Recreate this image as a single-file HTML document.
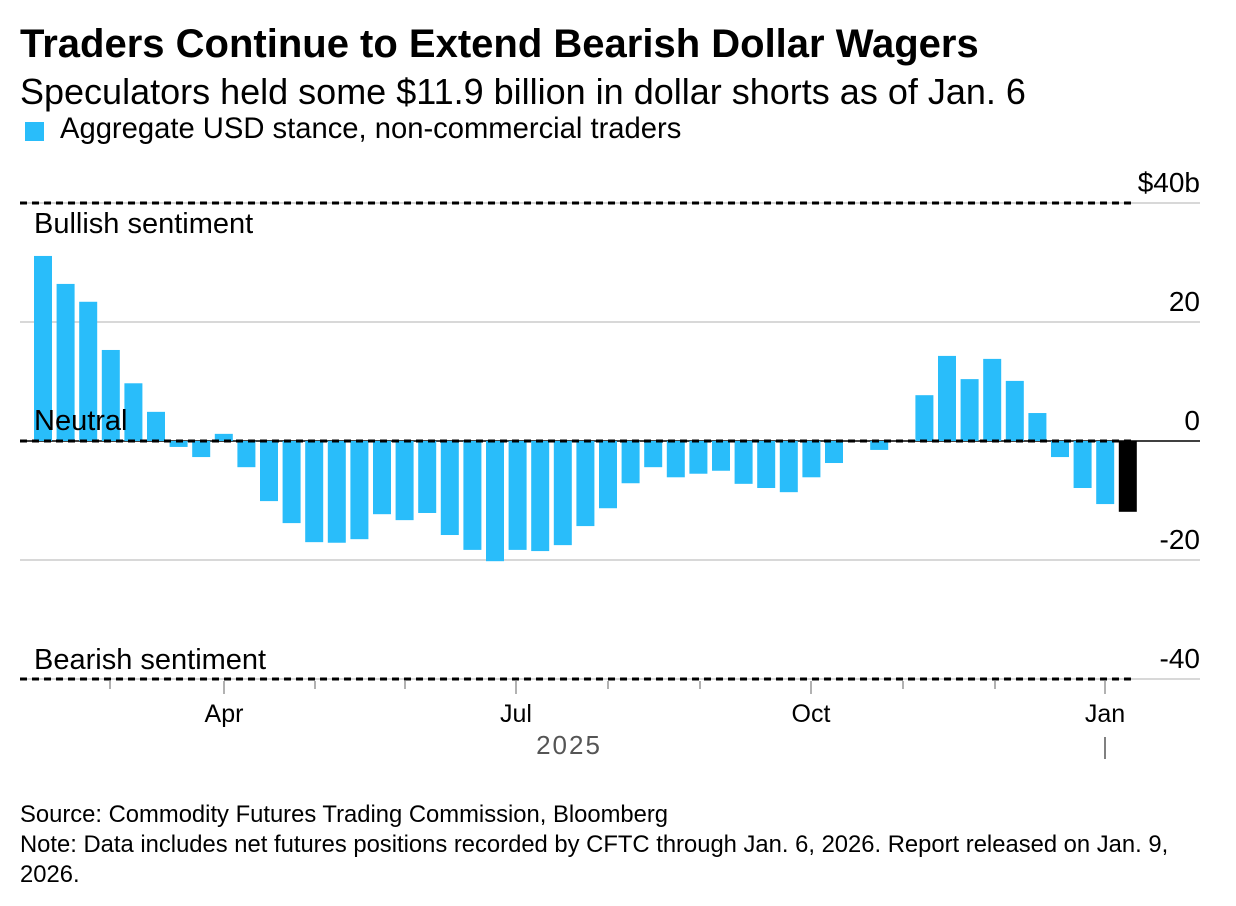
<!DOCTYPE html>
<html><head><meta charset="utf-8"><style>
body{margin:0;background:#fff;font-family:"Liberation Sans",sans-serif;}
#wrap{position:relative;width:1236px;height:906px;overflow:hidden}
.t{position:absolute;white-space:nowrap;color:#000}
</style></head><body><div id="wrap">
<div class="t" style="left:20px;top:22px;font-size:40px;font-weight:bold">Traders Continue to Extend Bearish Dollar Wagers</div>
<div class="t" style="left:20px;top:71px;font-size:36px">Speculators held some $11.9 billion in dollar shorts as of Jan. 6</div>
<div style="position:absolute;left:25px;top:122px;width:19px;height:19px;background:#29bdfa"></div>
<div class="t" style="left:60px;top:113px;font-size:29.2px">Aggregate USD stance, non-commercial traders</div>
<svg id="chart" width="1236" height="906" style="position:absolute;left:0;top:0" font-family="Liberation Sans, sans-serif"></svg>
<div class="t" style="left:20px;top:800px;font-size:23.8px;line-height:30px">Source: Commodity Futures Trading Commission, Bloomberg<br>Note: Data includes net futures positions recorded by CFTC through Jan. 6, 2026. Report released on Jan. 9,<br>2026.</div>
</div>
<script>
const values=[31.1,26.4,23.4,15.3,9.7,4.9,-1,-2.7,1.2,-4.4,-10.1,-13.8,-17,-17.1,-16.5,-12.3,-13.3,-12.1,-15.8,-18.3,-20.2,-18.3,-18.5,-17.5,-14.3,-11.3,-7.1,-4.4,-6.1,-5.5,-5,-7.2,-7.9,-8.6,-6.1,-3.7,0,-1.5,0,7.7,14.3,10.4,13.8,10.1,4.7,-2.7,-7.9,-10.6,-11.9];
const yTicks=[40,20,0,-20,-40];
const yTickLabels=["$40b","20","0","-20","-40"];
const monthLabels=["Apr","Jul","Oct","Jan"];
const monthIdx=[3,6,9,12];
const NS="http://www.w3.org/2000/svg";
const svg=document.getElementById('chart');
const y=v=>441-v*5.95;
const xc=i=>43+i*22.6;
const tickX=[110,224,315,405,516,608,700,811,903,995,1105];
const xm=m=>tickX[m-2];
function mk(t,a){const e=document.createElementNS(NS,t);for(const k in a)e.setAttribute(k,a[k]);svg.appendChild(e);return e;}
yTicks.forEach((v,i)=>{
 const g=mk('line',{x1:20,x2:1200,y1:y(v),y2:y(v),stroke:v===0?'#000':'#ccc','stroke-width':1.5});
 
 
 const tx=mk('text',{x:1200,y:y(v)-11,'text-anchor':'end','font-size':28,fill:'#000'});
 tx.textContent=yTickLabels[i];
 
 
});
values.forEach((v,i)=>{
 const r=mk('rect',{x:xc(i)-9,width:18,y:Math.min(y(v),y(0)),height:Math.abs(y(v)-y(0)),fill:i===values.length-1?'#000':'#29bdfa'});
 
 
});
[40,0,-40].forEach(v=>{
 const d=mk('line',{x1:20,x2:1135,y1:y(v),y2:y(v),stroke:'#000','stroke-width':3,'stroke-dasharray':'7,5'});
 
 
});
[["Bullish sentiment",233],["Neutral",430],["Bearish sentiment",669]].forEach(a=>{
 const t=mk('text',{x:34,y:a[1],'font-size':29,fill:'#000'});t.textContent=a[0];
 
 
});
for(let m=2;m<=12;m++){
 const major=monthIdx.includes(m);
 const l=mk('line',{x1:xm(m),x2:xm(m),y1:681,y2:major?694:689,stroke:'#999','stroke-width':1.5});
 
 
}
monthLabels.forEach((s,i)=>{
 const t=mk('text',{x:xm(monthIdx[i]),y:722,'text-anchor':'middle','font-size':25,fill:'#000'});t.textContent=s;
 
 
});
const yr=mk('text',{x:569,y:754,'text-anchor':'middle','font-size':26,fill:'#555','letter-spacing':'2'});yr.textContent='2025';


const yl=mk('line',{x1:1105,x2:1105,y1:737,y2:759,stroke:'#555','stroke-width':1.5});


</script></body></html>
